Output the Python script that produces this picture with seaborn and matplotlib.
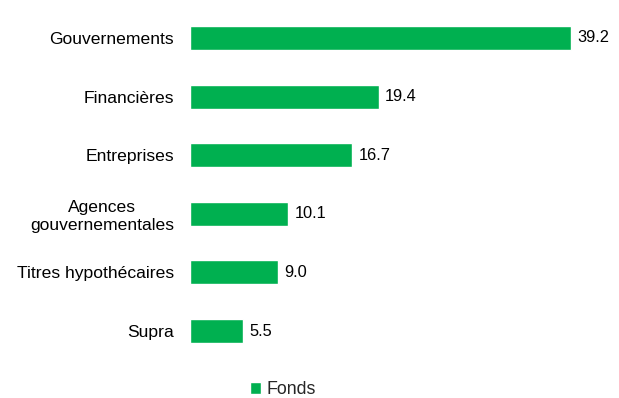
import matplotlib
matplotlib.use("Agg")
import matplotlib.pyplot as plt
import seaborn as sns
import pandas as pd

categories = ["Gouvernements", "Financières", "Entreprises",
              "Agences\ngouvernementales", "Titres hypothécaires", "Supra"]
values = [39.2, 19.4, 16.7, 10.1, 9.0, 5.5]
series_name = "Fonds"

sns.set_theme(style="white")
plt.rcParams["font.family"] = ["Liberation Sans", "DejaVu Sans"]

df = pd.DataFrame({"cat": categories, "val": values, "series": series_name})

fig = plt.figure(figsize=(6.19, 3.98), dpi=100)
ax = fig.add_axes([190/619, (398-360.3)/398, 389/619, (360.3-8.7)/398])
sns.barplot(data=df, x="val", y="cat", hue="series", palette=["#00B050"],
            orient="h", width=0.41, ax=ax, saturation=1)
for c in ax.containers:
    ax.bar_label(c, fmt="%.1f", padding=4.5, fontsize=11.8, color="#000000")
ax.set_xlim(0, 40)
ax.set_ylim(5.5, -0.5)
ax.set_xlabel("")
ax.set_ylabel("")
ax.set_xticks([])
for s in ax.spines.values():
    s.set_visible(False)
ax.tick_params(axis="y", length=0, pad=11.5, labelsize=12.6, labelcolor="#000000")
for lab in ax.get_yticklabels():
    lab.set_multialignment("center")
ax.legend_.remove()
fig.legend(handles=ax.containers[0].patches[:1], labels=[series_name],
           loc="center", bbox_to_anchor=(283/619, 1-389.5/398), frameon=False,
           fontsize=12.8, handlelength=0.65, handleheight=0.65, handletextpad=0.3,
           borderpad=0)
fig.savefig("out.png", dpi=100)
